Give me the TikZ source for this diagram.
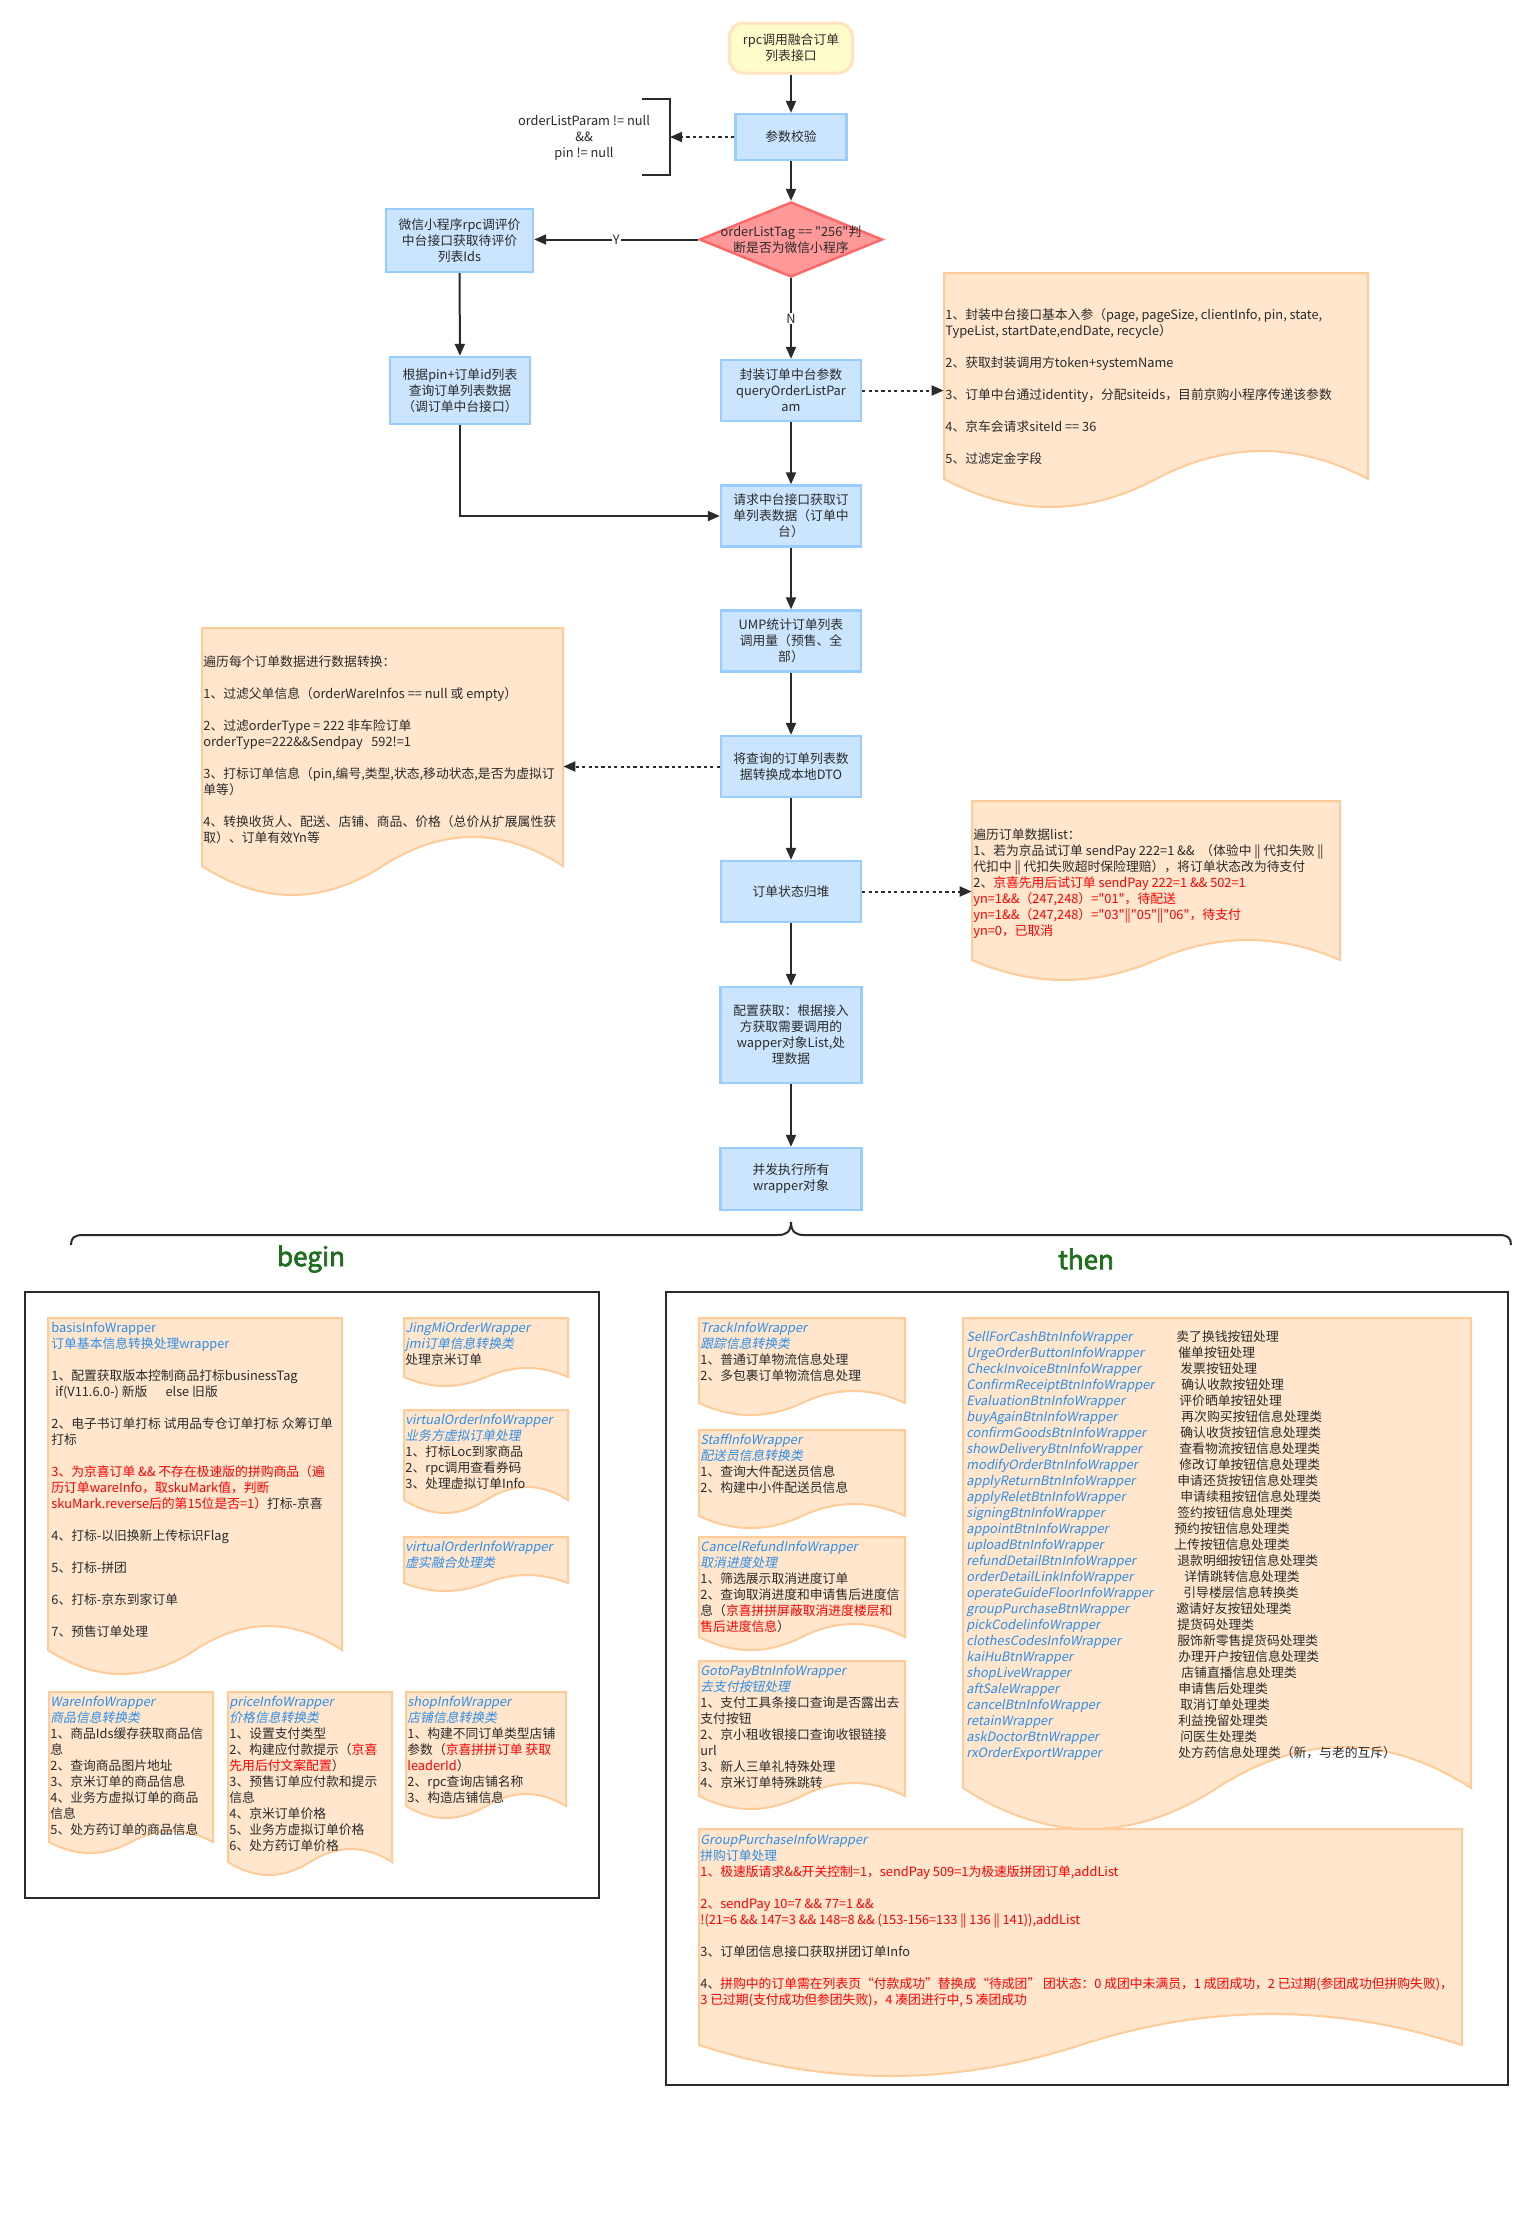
\documentclass[tikz,border=0pt]{standalone}
\usepackage{fontspec}
\setmainfont{Noto Sans CJK SC}[Ligatures=TeXOff,AutoFakeSlant=0.2,AutoFakeBold=2.5]
\usetikzlibrary{arrows.meta,shapes.geometric,fit}
\definecolor{boxfill}{HTML}{CCE5FF}
\definecolor{boxdraw}{HTML}{99CCFF}
\definecolor{notefill}{HTML}{FFE6CC}
\definecolor{notedraw}{HTML}{FFCC99}
\definecolor{startfill}{HTML}{FFFCCC}
\definecolor{startdraw}{HTML}{FFE4BF}
\definecolor{dfill}{HTML}{FF9999}
\definecolor{ddraw}{HTML}{FF6666}
\definecolor{ink}{HTML}{2A2A2A}
\definecolor{tblue}{HTML}{2D8EEB}
\definecolor{tred}{HTML}{FF0000}
\definecolor{tgreen}{HTML}{1E6E1E}
\newcommand\fsz{\fontsize{6.4pt}{8pt}\selectfont}
\newcommand\btx[1]{\textcolor{tblue}{\itshape #1}}
\newcommand\butx[1]{\textcolor{tblue}{#1}}
\newcommand\rtx[1]{\textcolor{tred}{#1}}
\newcommand\dbar{|\kern-0.4pt|}
\newcommand\rc[2]{\hspace*{#1pt}#2}
% document-shaped note: name, x1, ytop, x2, yend, amplitude
\newcommand\docnote[6]{%
 \pgfmathsetmacro\dnw{#4-#2}%
 \pgfmathsetmacro\dnxm{(#2+#4)/2}%
 \pgfmathsetmacro\dnca{#4-\dnw/6}%
 \pgfmathsetmacro\dncb{\dnxm+\dnw/6}%
 \pgfmathsetmacro\dncc{\dnxm-\dnw/6}%
 \pgfmathsetmacro\dncd{#2+\dnw/6}%
 \pgfmathsetmacro\dnyu{#5-4*#6/3}%
 \pgfmathsetmacro\dnyd{#5+4*#6/3}%
 \pgfmathsetmacro\dnyb{#5+#6}%
 \draw[notestyle] (#2,#3) -- (#4,#3) -- (#4,#5) .. controls (\dnca,\dnyu) and (\dncb,\dnyu) .. (\dnxm,#5) .. controls (\dncc,\dnyd) and (\dncd,\dnyd) .. (#2,#5) -- cycle;
 \node[fit={(#2,#3) (#4,\dnyb)}, inner sep=0pt] (#1) {};
}
\begin{document}
\begin{tikzpicture}[x=0.5pt,y=-0.5pt,
  box/.style={draw=boxdraw, fill=boxfill, line width=1.2pt, align=center, font=\fsz, text=ink, inner sep=1pt, minimum width=70pt, minimum height=30.5pt},
  arr/.style={draw=ink, line width=1pt, -{Triangle[length=6pt,width=5pt]}},
  darr/.style={arr, dash pattern=on 1.6pt off 1.6pt},
  notestyle/.style={fill=notefill, draw=notedraw, line width=1pt},
  ntext/.style={anchor=north west, align=left, inner sep=0pt, font=\fsz, text=ink},
  bigbox/.style={draw=ink, line width=1.2pt, anchor=north west},
  lbl/.style={fill=white, font=\fsz, text=ink, inner sep=0.5pt},
  title/.style={font=\fontsize{13pt}{15pt}\selectfont\bfseries, text=tgreen}
]
\useasboundingbox (0,0) rectangle (1537,2235);
\fill[white] (0,0) rectangle (1537,2235);

% ---------------- main flow ----------------
\node[box, fill=startfill, draw=startdraw, line width=1.5pt, rounded corners=7pt, minimum width=61.5pt, minimum height=25pt] (start) at (791,48) {rpc调用融合订单\\列表接口};
\node[box, minimum width=55.5pt, minimum height=23pt] (p) at (791,137) {参数校验};
\node[diamond, draw=ddraw, fill=dfill, line width=1.2pt, minimum width=91.5pt, minimum height=37.5pt, inner sep=0pt] (d) at (791,239.5) {};
\node[font=\fsz, text=ink, align=center, inner sep=0pt] (dt) at (d.center) {orderListTag == "256"判\\断是否为微信小程序};
\node[box, minimum width=73.5pt, minimum height=31.5pt] (wx) at (459.5,240.5) {微信小程序rpc调评价\\中台接口获取待评价\\列表Ids};
\node[box, minimum height=33.5pt] (gp) at (460,390.5) {根据pin+订单id列表\\查询订单列表数据\\（调订单中台接口）};
\node[box] (fz) at (791,390.5) {封装订单中台参数\\queryOrderListPar\\am};
\node[box] (qq) at (791,516) {请求中台接口获取订\\单列表数据（订单中\\台）};
\node[box] (ump) at (791,641) {UMP统计订单列表\\调用量（预售、全\\部）};
\node[box] (jz) at (791,766.5) {将查询的订单列表数\\据转换成本地DTO};
\node[box] (zt) at (791,891.5) {订单状态归堆};
\node[box, minimum width=70.5pt, minimum height=48pt] (pz) at (791,1035) {配置获取：根据接入\\方获取需要调用的\\wapper对象List,处\\理数据};
\node[box, minimum width=70.5pt, minimum height=31pt] (bf) at (791,1179) {并发执行所有\\wrapper对象};

% condition annotation
\node[font=\fsz, text=ink, align=center, inner sep=0pt] (cond) at (584,137.5) {orderListParam != null\\\&\&\\pin != null};
\draw[ink, line width=1pt] (642,99) -- (670,99) -- (670,175) -- (642,175);
\coordinate (brk) at (670,137);

% side notes
\docnote{n1}{944}{273}{1368}{479}{28}
\node[ntext] (n1t) at (945,308.5) {1、封装中台接口基本入参（page, pageSize, clientInfo, pin, state,\\TypeList, startDate,endDate, recycle）\\[8pt]2、获取封装调用方token+systemName\\[8pt]3、订单中台通过identity，分配siteids，目前京购小程序传递该参数\\[8pt]4、京车会请求siteId == 36\\[8pt]5、过滤定金字段};

\docnote{n2}{202}{628}{563}{866}{29}
\node[ntext] (n2t) at (203,655.5) {遍历每个订单数据进行数据转换：\\[8pt]1、过滤父单信息（orderWareInfos == null 或 empty）\\[8pt]2、过滤orderType = 222 非车险订单\\orderType=222\&\&Sendpay\ \ \ 592!=1\\[8pt]3、打标订单信息（pin,编号,类型,状态,移动状态,是否为虚拟订\\单等）\\[8pt]4、转换收货人、配送、店铺、商品、价格（总价从扩展属性获\\取）、订单有效Yn等};

\docnote{n3}{972}{801}{1340}{960}{20}
\node[ntext] (n3t) at (973,828.5) {遍历订单数据list：\\1、若为京品试订单 sendPay 222=1 \&\&\ \ （体验中 \dbar{} 代扣失败 \dbar\\代扣中 \dbar{} 代扣失败超时保险理赔），将订单状态改为待支付\\2、\rtx{京喜先用后试订单 sendPay 222=1 \&\& 502=1}\\\rtx{yn=1\&\&（247,248）="01"，待配送}\\\rtx{yn=1\&\&（247,248）="03"\dbar"05"\dbar"06"，待支付}\\\rtx{yn=0，已取消}};

% connectors
\draw[arr] (start) -- (p);
\draw[arr] (p) -- (d);
\draw[darr] (p.west) -- (brk);
\draw[arr] (d.west) -- node[lbl]{Y} (d.west -| wx.east);
\draw[arr] (d.south) -- node[lbl]{N} (fz.north);
\draw[arr] (wx) -- (gp);
\draw[arr] (gp.south) |- (qq.west);
\draw[darr] (fz.east) -- (fz.east -| n1.west);
\draw[arr] (fz) -- (qq);
\draw[arr] (qq) -- (ump);
\draw[arr] (ump) -- (jz);
\draw[darr] (jz.west) -- (jz.west -| n2.east);
\draw[arr] (jz) -- (zt);
\draw[darr] (zt.east) -- (zt.east -| n3.west);
\draw[arr] (zt) -- (pz);
\draw[arr] (pz) -- (bf);

% brace
\draw[ink, line width=1pt] (71,1245) .. controls (71,1238) and (74,1235) .. (83,1235) -- (778,1235) .. controls (786,1235) and (791,1232) .. (791,1222) .. controls (791,1232) and (796,1235) .. (804,1235) -- (1499,1235) .. controls (1508,1235) and (1511,1238) .. (1511,1245);
\node[title] (lbegin) at (311,1259) {begin};
\node[title] (lthen) at (1086,1259) {then};

% ---------------- begin box ----------------
\node[bigbox, minimum width=287pt, minimum height=303pt] (beginbox) at (24,1291) {};

\docnote{nb1}{48}{1318}{342}{1650}{24}
\node[ntext] (nb1t) at (51,1321.5) {\butx{basisInfoWrapper}\\\butx{订单基本信息转换处理wrapper}\\[8pt]1、配置获取版本控制商品打标businessTag\\\hspace*{2pt}if(V11.6.0-) 新版\hspace{9pt}else 旧版\\[8pt]2、电子书订单打标 试用品专仓订单打标 众筹订单\\打标\\[8pt]\rtx{3、为京喜订单 \&\& 不存在极速版的拼购商品（遍}\\\rtx{历订单wareInfo，取skuMark值，判断}\\\rtx{skuMark.reverse后的第15位是否=1）}打标-京喜\\[8pt]4、打标-以旧换新上传标识Flag\\[8pt]5、打标-拼团\\[8pt]6、打标-京东到家订单\\[8pt]7、预售订单处理};

\docnote{nb2}{404}{1318}{568}{1377}{9}
\node[ntext] (nb2t) at (405,1321.5) {\btx{JingMiOrderWrapper}\\\btx{jmi订单信息转换类}\\处理京米订单};

\docnote{nb3}{404}{1410}{568}{1500}{13}
\node[ntext] (nb3t) at (405,1413.5) {\btx{virtualOrderInfoWrapper}\\\btx{业务方虚拟订单处理}\\1、打标Loc到家商品\\2、rpc调用查看券码\\3、处理虚拟订单Info};

\docnote{nb4}{404}{1537}{568}{1583}{8}
\node[ntext] (nb4t) at (405,1540.5) {\btx{virtualOrderInfoWrapper}\\\btx{虚实融合处理类}};

\docnote{nb5}{49}{1692}{213}{1842}{11}
\node[ntext] (nb5t) at (50,1695.5) {\btx{WareInfoWrapper}\\\btx{商品信息转换类}\\1、商品Ids缓存获取商品信\\息\\2、查询商品图片地址\\3、京米订单的商品信息\\4、业务方虚拟订单的商品\\信息\\5、处方药订单的商品信息};

\docnote{nb6}{228}{1692}{392}{1862}{13}
\node[ntext] (nb6t) at (229,1695.5) {\btx{priceInfoWrapper}\\\btx{价格信息转换类}\\1、设置支付类型\\2、构建应付款提示（\rtx{京喜}\\\rtx{先用后付文案配置}）\\3、预售订单应付款和提示\\信息\\4、京米订单价格\\5、业务方虚拟订单价格\\6、处方药订单价格};

\docnote{nb7}{406}{1692}{566}{1806}{12}
\node[ntext] (nb7t) at (407,1695.5) {\btx{shopInfoWrapper}\\\btx{店铺信息转换类}\\1、构建不同订单类型店铺\\参数（\rtx{京喜拼拼订单 获取}\\\rtx{leaderId}）\\2、rpc查询店铺名称\\3、构造店铺信息};

% ---------------- then box ----------------
\node[bigbox, minimum width=421pt, minimum height=396.5pt] (thenbox) at (665,1291) {};

\docnote{nt1}{699}{1318}{905}{1403}{12}
\node[ntext] (nt1t) at (700,1321.5) {\btx{TrackInfoWrapper}\\\btx{跟踪信息转换类}\\1、普通订单物流信息处理\\2、多包裹订单物流信息处理};

\docnote{nt2}{699}{1430}{905}{1516}{12}
\node[ntext] (nt2t) at (700,1433.5) {\btx{StaffInfoWrapper}\\\btx{配送员信息转换类}\\1、查询大件配送员信息\\2、构建中小件配送员信息};

\docnote{nt3}{699}{1537}{905}{1637}{13}
\node[ntext] (nt3t) at (700,1540.5) {\btx{CancelRefundInfoWrapper}\\\btx{取消进度处理}\\1、筛选展示取消进度订单\\2、查询取消进度和申请售后进度信\\息（\rtx{京喜拼拼屏蔽取消进度楼层和}\\\rtx{售后进度信息}）};

\docnote{nt4}{699}{1661}{905}{1796}{13}
\node[ntext] (nt4t) at (700,1664.5) {\btx{GotoPayBtnInfoWrapper}\\\btx{去支付按钮处理}\\1、支付工具条接口查询是否露出去\\支付按钮\\2、京小租收银接口查询收银链接\\url\\3、新人三单礼特殊处理\\4、京米订单特殊跳转};

\docnote{nt5}{963}{1318}{1471}{1788}{41}
\node[ntext] (nt5l) at (966,1330.5) {\btx{SellForCashBtnInfoWrapper}\\\btx{UrgeOrderButtonInfoWrapper}\\\btx{CheckInvoiceBtnInfoWrapper}\\\btx{ConfirmReceiptBtnInfoWrapper}\\\btx{EvaluationBtnInfoWrapper}\\\btx{buyAgainBtnInfoWrapper}\\\btx{confirmGoodsBtnInfoWrapper}\\\btx{showDeliveryBtnInfoWrapper}\\\btx{modifyOrderBtnInfoWrapper}\\\btx{applyReturnBtnInfoWrapper}\\\btx{applyReletBtnInfoWrapper}\\\btx{signingBtnInfoWrapper}\\\btx{appointBtnInfoWrapper}\\\btx{uploadBtnInfoWrapper}\\\btx{refundDetailBtnInfoWrapper}\\\btx{orderDetailLinkInfoWrapper}\\\btx{operateGuideFloorInfoWrapper}\\\btx{groupPurchaseBtnWrapper}\\\btx{pickCodelinfoWrapper}\\\btx{clothesCodesInfoWrapper}\\\btx{kaiHuBtnWrapper}\\\btx{shopLiveWrapper}\\\btx{aftSaleWrapper}\\\btx{cancelBtnInfoWrapper}\\\btx{retainWrapper}\\\btx{askDoctorBtnWrapper}\\\btx{rxOrderExportWrapper}};
\node[ntext] (nt5r) at (1174,1330.5) {\rc{1}{卖了换钱按钮处理}\\\rc{2}{催单按钮处理}\\\rc{3}{发票按钮处理}\\\rc{3.5}{确认收款按钮处理}\\\rc{2.5}{评价晒单按钮处理}\\\rc{3.5}{再次购买按钮信息处理类}\\\rc{3}{确认收货按钮信息处理类}\\\rc{2.5}{查看物流按钮信息处理类}\\\rc{2.5}{修改订单按钮信息处理类}\\\rc{1.5}{申请还货按钮信息处理类}\\\rc{3}{申请续租按钮信息处理类}\\\rc{1.5}{签约按钮信息处理类}\\\rc{0}{预约按钮信息处理类}\\\rc{0}{上传按钮信息处理类}\\\rc{1.5}{退款明细按钮信息处理类}\\\rc{5}{详情跳转信息处理类}\\\rc{4.5}{引导楼层信息转换类}\\\rc{1}{邀请好友按钮处理类}\\\rc{1.5}{提货码处理类}\\\rc{1.5}{服饰新零售提货码处理类}\\\rc{2}{办理开户按钮信息处理类}\\\rc{3.5}{店铺直播信息处理类}\\\rc{2}{申请售后处理类}\\\rc{3}{取消订单处理类}\\\rc{2}{利益挽留处理类}\\\rc{3}{问医生处理类}\\\rc{2}{处方药信息处理类（新，与老的互斥）}};

\docnote{nt6}{699}{1829}{1462}{2045}{31}
\node[ntext] (nt6t) at (700,1833.5) {\btx{GroupPurchaseInfoWrapper}\\\butx{拼购订单处理}\\\rtx{1、极速版请求\&\&开关控制=1，sendPay 509=1为极速版拼团订单,addList}\\[8pt]\rtx{2、sendPay 10=7 \&\& 77=1 \&\&}\\\rtx{!(21=6 \&\& 147=3 \&\& 148=8 \&\& (153-156=133 \dbar{} 136 \dbar{} 141)),addList}\\[8pt]3、订单团信息接口获取拼团订单Info\\[8pt]4、\rtx{拼购中的订单需在列表页“付款成功”替换成“待成团” 团状态：0 成团中未满员，1 成团成功，2 已过期(参团成功但拼购失败)，}\\\rtx{3 已过期(支付成功但参团失败)，4 凑团进行中, 5 凑团成功}};

\end{tikzpicture}
\end{document}
